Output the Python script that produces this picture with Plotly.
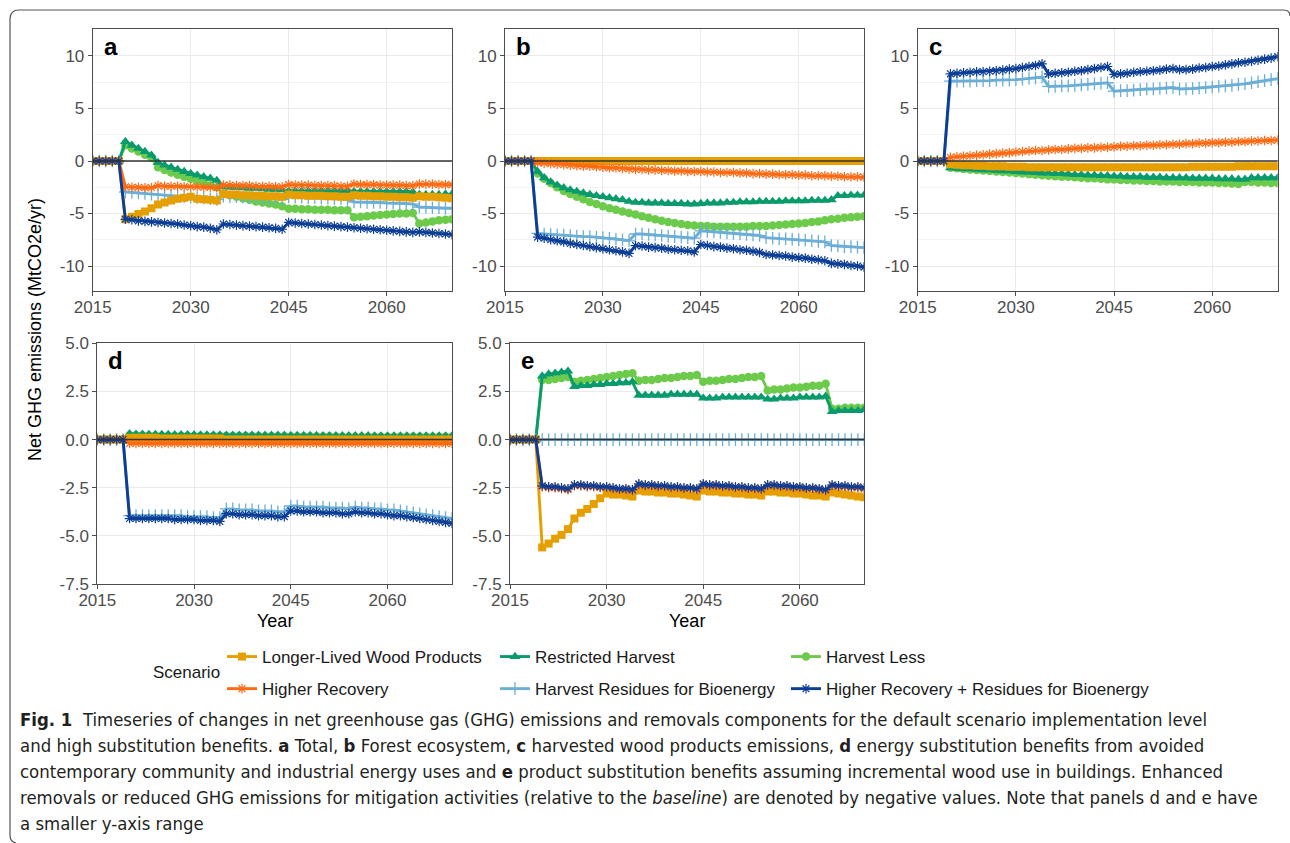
import plotly.graph_objects as go

# ---------------- data ----------------
years = list(range(2015, 2071))

scenarios = ["Longer-Lived Wood Products", "Restricted Harvest", "Harvest Less",
             "Higher Recovery", "Harvest Residues for Bioenergy",
             "Higher Recovery + Residues for Bioenergy"]

x_ticks = [2015, 2030, 2045, 2060]
x_tick_labels = ["2015", "2030", "2045", "2060"]
y_ticks_top = [-10, -5, 0, 5, 10]
y_tick_labels_top = ["-10", "-5", "0", "5", "10"]
y_ticks_bottom = [-7.5, -5, -2.5, 0, 2.5, 5]
y_tick_labels_bottom = ["-7.5", "-5.0", "-2.5", "0.0", "2.5", "5.0"]

# ---- panel a: Total ----
llwp_a = [0, 0, 0, 0, 0,
          -5.55, -5.3, -5.05, -4.8, -4.5, -4.15, -3.95, -3.75, -3.6, -3.5,
          -3.4, -3.6, -3.65, -3.7, -3.75, -3.15, -3.2, -3.2, -3.25, -3.25,
          -3.3, -3.3, -3.35, -3.35, -3.4, -3.2, -3.25, -3.25, -3.3, -3.3,
          -3.3, -3.35, -3.35, -3.4, -3.4, -3.25, -3.3, -3.3, -3.35, -3.35,
          -3.4, -3.4, -3.45, -3.45, -3.5, -3.35, -3.4, -3.4, -3.45, -3.5, -3.55]
rh_a = [0, 0, 0, 0, 0,
        1.85, 1.5, 1.2, 0.9, 0.55, -0.15, -0.4, -0.6, -0.8, -1.0,
        -1.2, -1.35, -1.5, -1.65, -1.85, -2.45, -2.5, -2.5, -2.55, -2.6,
        -2.6, -2.65, -2.7, -2.7, -2.75, -2.85, -2.85, -2.85, -2.85, -2.85,
        -2.85, -2.85, -2.85, -2.85, -2.85, -2.9, -2.9, -2.9, -2.9, -2.9,
        -2.9, -2.9, -2.9, -2.9, -2.95, -3.2, -3.2, -3.2, -3.2, -3.15, -3.15]
hl_a = [0, 0, 0, 0, 0,
        1.5, 1.2, 0.9, 0.6, 0.3, -0.6, -0.85, -1.1, -1.3, -1.5,
        -1.7, -1.9, -2.1, -2.3, -2.5, -3.1, -3.25, -3.4, -3.55, -3.7,
        -3.85, -3.95, -4.05, -4.15, -4.3, -4.55, -4.55, -4.6, -4.6, -4.65,
        -4.65, -4.65, -4.7, -4.7, -4.7, -5.35, -5.3, -5.25, -5.2, -5.15,
        -5.1, -5.05, -5.0, -5.0, -4.95, -5.95, -5.85, -5.75, -5.65, -5.6, -5.55]
hr_a = [0, 0, 0, 0, 0,
        -2.45, -2.5, -2.5, -2.55, -2.55, -2.35, -2.4, -2.4, -2.4, -2.45,
        -2.45, -2.45, -2.5, -2.5, -2.55, -2.3, -2.3, -2.35, -2.35, -2.35,
        -2.4, -2.4, -2.4, -2.45, -2.45, -2.25, -2.3, -2.3, -2.3, -2.35,
        -2.35, -2.35, -2.35, -2.4, -2.4, -2.2, -2.25, -2.25, -2.25, -2.3,
        -2.3, -2.3, -2.3, -2.35, -2.35, -2.2, -2.2, -2.2, -2.25, -2.25, -2.25]
hrb_a = [0, 0, 0, 0, 0,
         -2.95, -3.0, -3.05, -3.1, -3.15, -3.2, -3.25, -3.3, -3.35, -3.4,
         -3.45, -3.5, -3.55, -3.6, -3.65, -3.35, -3.4, -3.4, -3.45, -3.5,
         -3.5, -3.55, -3.6, -3.6, -3.65, -3.4, -3.45, -3.45, -3.5, -3.5,
         -3.55, -3.55, -3.6, -3.6, -3.65, -3.9, -3.9, -3.95, -3.95, -3.95,
         -4.0, -4.0, -4.05, -4.05, -4.1, -4.4, -4.4, -4.45, -4.45, -4.5, -4.5]
hrr_a = [0, 0, 0, 0, 0,
         -5.55, -5.6, -5.7, -5.75, -5.8, -5.85, -5.9, -5.95, -6.0, -6.1,
         -6.15, -6.25, -6.3, -6.4, -6.55, -6.0, -6.05, -6.1, -6.15, -6.2,
         -6.25, -6.3, -6.35, -6.4, -6.5, -5.85, -5.9, -5.95, -6.0, -6.05,
         -6.1, -6.15, -6.2, -6.25, -6.3, -6.35, -6.4, -6.45, -6.5, -6.55,
         -6.6, -6.65, -6.7, -6.75, -6.8, -6.75, -6.8, -6.85, -6.9, -6.95, -7.0]

# ---- panel b: Forest ecosystem ----
llwp_b = [0, 0, 0, 0, 0,
          0, 0, 0, 0, 0, 0, 0, 0, 0, 0,
          0, 0, 0, 0, 0, 0, 0, 0, 0, 0,
          0, 0, 0, 0, 0, 0, 0, 0, 0, 0,
          0, 0, 0, 0, 0, 0, 0, 0, 0, 0,
          0, 0, 0, 0, 0, 0, 0, 0, 0, 0, 0]
rh_b = [0, 0, 0, 0, 0,
        -1.0, -1.6, -2.0, -2.3, -2.55, -2.75, -2.9, -3.05, -3.2, -3.3,
        -3.4, -3.5, -3.6, -3.7, -3.85, -3.95, -3.95, -4.0, -4.0, -4.0,
        -4.05, -4.05, -4.05, -4.1, -4.1, -4.05, -4.0, -4.0, -4.0, -3.95,
        -3.95, -3.9, -3.9, -3.9, -3.85, -3.85, -3.85, -3.85, -3.8, -3.8,
        -3.8, -3.8, -3.75, -3.75, -3.75, -3.7, -3.3, -3.3, -3.25, -3.25, -3.25]
hl_b = [0, 0, 0, 0, 0,
        -1.2, -1.7, -2.1, -2.5, -2.85, -3.15, -3.4, -3.65, -3.9, -4.1,
        -4.3, -4.5, -4.65, -4.8, -4.95, -5.1, -5.25, -5.4, -5.55, -5.7,
        -5.8, -5.9, -6.0, -6.1, -6.15, -6.2, -6.2, -6.25, -6.25, -6.25,
        -6.25, -6.25, -6.25, -6.2, -6.2, -6.2, -6.15, -6.1, -6.05, -6.0,
        -5.95, -5.9, -5.8, -5.75, -5.65, -5.55, -5.5, -5.4, -5.35, -5.3, -5.25]
hr_b = [0, 0, 0, 0, 0,
        -0.15, -0.2, -0.25, -0.3, -0.35, -0.4, -0.45, -0.5, -0.5, -0.55,
        -0.6, -0.65, -0.65, -0.7, -0.75, -0.8, -0.8, -0.85, -0.85, -0.9,
        -0.9, -0.95, -0.95, -1.0, -1.0, -1.0, -1.05, -1.05, -1.1, -1.1,
        -1.1, -1.15, -1.15, -1.2, -1.2, -1.25, -1.25, -1.3, -1.3, -1.3,
        -1.35, -1.35, -1.4, -1.4, -1.4, -1.45, -1.45, -1.5, -1.5, -1.5, -1.55]
hrb_b = [0, 0, 0, 0, 0,
         -6.9, -6.95, -7.0, -7.05, -7.05, -7.1, -7.15, -7.2, -7.2, -7.25,
         -7.3, -7.35, -7.45, -7.5, -7.6, -6.95, -6.95, -7.0, -7.05, -7.1,
         -7.15, -7.2, -7.25, -7.3, -7.35, -6.65, -6.7, -6.75, -6.8, -6.85,
         -6.9, -6.95, -7.0, -7.05, -7.1, -7.3, -7.35, -7.4, -7.4, -7.45,
         -7.5, -7.55, -7.6, -7.65, -7.7, -8.05, -8.1, -8.15, -8.15, -8.2, -8.25]
hrr_b = [0, 0, 0, 0, 0,
         -7.25, -7.35, -7.5, -7.6, -7.7, -7.85, -7.95, -8.05, -8.15, -8.25,
         -8.35, -8.45, -8.55, -8.65, -8.8, -8.05, -8.1, -8.2, -8.25, -8.3,
         -8.4, -8.45, -8.5, -8.55, -8.65, -7.95, -8.05, -8.15, -8.2, -8.3,
         -8.35, -8.45, -8.5, -8.6, -8.7, -8.9, -8.95, -9.0, -9.05, -9.15,
         -9.2, -9.25, -9.35, -9.4, -9.5, -9.75, -9.8, -9.85, -9.95, -10.0, -10.1]

# ---- panel c: harvested wood products emissions ----
llwp_c = [0, 0, 0, 0, 0,
          -0.3, -0.35, -0.4, -0.4, -0.45, -0.45, -0.5, -0.5, -0.5, -0.55,
          -0.55, -0.55, -0.6, -0.6, -0.6, -0.6, -0.6, -0.6, -0.6, -0.6,
          -0.6, -0.6, -0.6, -0.6, -0.6, -0.6, -0.6, -0.6, -0.6, -0.6,
          -0.6, -0.6, -0.6, -0.6, -0.6, -0.6, -0.6, -0.55, -0.55, -0.55,
          -0.55, -0.55, -0.55, -0.55, -0.5, -0.5, -0.5, -0.5, -0.5, -0.5, -0.5]
rh_c = [0, 0, 0, 0, 0,
        -0.65, -0.7, -0.75, -0.75, -0.8, -0.85, -0.85, -0.9, -0.95, -0.95,
        -1.0, -1.05, -1.05, -1.1, -1.15, -1.15, -1.2, -1.2, -1.25, -1.3,
        -1.3, -1.35, -1.35, -1.4, -1.4, -1.45, -1.45, -1.5, -1.5, -1.5,
        -1.55, -1.55, -1.55, -1.6, -1.6, -1.6, -1.6, -1.65, -1.65, -1.65,
        -1.65, -1.7, -1.7, -1.7, -1.75, -1.75, -1.6, -1.6, -1.6, -1.6, -1.6]
hl_c = [0, 0, 0, 0, 0,
        -0.65, -0.7, -0.75, -0.8, -0.85, -0.9, -0.95, -1.0, -1.05, -1.1,
        -1.15, -1.2, -1.25, -1.3, -1.35, -1.4, -1.45, -1.5, -1.5, -1.55,
        -1.6, -1.65, -1.65, -1.7, -1.75, -1.75, -1.8, -1.8, -1.85, -1.85,
        -1.9, -1.9, -1.95, -1.95, -1.95, -2.0, -2.0, -2.0, -2.05, -2.05,
        -2.05, -2.1, -2.1, -2.15, -2.2, -2.0, -2.0, -2.05, -2.05, -2.1, -2.1]
hr_c = [0, 0, 0, 0, 0,
        0.35, 0.4, 0.45, 0.5, 0.55, 0.6, 0.65, 0.7, 0.75, 0.8,
        0.85, 0.9, 0.95, 1.0, 1.0, 1.05, 1.1, 1.1, 1.15, 1.2,
        1.2, 1.25, 1.25, 1.3, 1.3, 1.35, 1.4, 1.4, 1.45, 1.45,
        1.5, 1.5, 1.55, 1.55, 1.6, 1.6, 1.65, 1.65, 1.7, 1.7,
        1.75, 1.75, 1.8, 1.8, 1.85, 1.85, 1.9, 1.9, 1.95, 1.95, 2.0]
hrb_c = [0, 0, 0, 0, 0,
         7.6, 7.6, 7.6, 7.6, 7.65, 7.65, 7.65, 7.7, 7.7, 7.7,
         7.75, 7.8, 7.85, 7.9, 8.0, 7.1, 7.1, 7.15, 7.15, 7.2,
         7.25, 7.3, 7.35, 7.4, 7.45, 6.65, 6.7, 6.7, 6.75, 6.8,
         6.85, 6.85, 6.9, 6.95, 7.0, 6.85, 6.85, 6.9, 6.95, 7.0,
         7.05, 7.1, 7.15, 7.2, 7.3, 7.35, 7.45, 7.55, 7.65, 7.75, 7.85]
hrr_c = [0, 0, 0, 0, 0,
         8.3, 8.35, 8.4, 8.45, 8.5, 8.5, 8.55, 8.6, 8.65, 8.75,
         8.8, 8.9, 9.0, 9.1, 9.25, 8.3, 8.35, 8.4, 8.45, 8.55,
         8.6, 8.7, 8.8, 8.9, 9.0, 8.25, 8.3, 8.35, 8.45, 8.5,
         8.55, 8.6, 8.65, 8.75, 8.8, 8.7, 8.7, 8.75, 8.85, 8.9,
         9.0, 9.05, 9.15, 9.25, 9.35, 9.4, 9.5, 9.6, 9.7, 9.8, 9.95]

# ---- panel d: energy substitution ----
llwp_d = [0, 0, 0, 0, 0,
          0.1, 0.1, 0.1, 0.1, 0.1, 0.05, 0.05, 0.05, 0.05, 0.05,
          0.05, 0.05, 0.05, 0.05, 0.05, 0, 0, 0, 0, 0,
          0, 0, 0, 0, 0, 0, 0, 0, 0, 0,
          0, 0, 0, 0, 0, 0, 0, 0, 0, 0,
          0, 0, 0, 0, 0, 0, 0, 0, 0, 0, 0]
rh_d = [0, 0, 0, 0, 0,
        0.3, 0.28, 0.28, 0.27, 0.27, 0.26, 0.26, 0.25, 0.25, 0.25,
        0.25, 0.24, 0.24, 0.24, 0.24, 0.23, 0.23, 0.23, 0.23, 0.23,
        0.22, 0.22, 0.22, 0.22, 0.22, 0.21, 0.21, 0.21, 0.21, 0.21,
        0.2, 0.2, 0.2, 0.2, 0.2, 0.2, 0.2, 0.2, 0.19, 0.19,
        0.19, 0.19, 0.19, 0.19, 0.19, 0.18, 0.18, 0.18, 0.18, 0.18, 0.18]
hl_d = [0, 0, 0, 0, 0,
        0.22, 0.22, 0.21, 0.21, 0.21, 0.2, 0.2, 0.2, 0.2, 0.2,
        0.19, 0.19, 0.19, 0.19, 0.19, 0.18, 0.18, 0.18, 0.18, 0.18,
        0.17, 0.17, 0.17, 0.17, 0.17, 0.16, 0.16, 0.16, 0.16, 0.16,
        0.16, 0.16, 0.16, 0.15, 0.15, 0.15, 0.15, 0.15, 0.15, 0.15,
        0.15, 0.15, 0.15, 0.15, 0.15, 0.15, 0.15, 0.15, 0.15, 0.15, 0.15]
hr_d = [0, 0, 0, 0, 0,
        -0.2, -0.2, -0.2, -0.2, -0.2, -0.2, -0.2, -0.2, -0.2, -0.2,
        -0.2, -0.2, -0.2, -0.2, -0.2, -0.2, -0.2, -0.2, -0.2, -0.2,
        -0.2, -0.2, -0.2, -0.2, -0.2, -0.2, -0.2, -0.2, -0.2, -0.2,
        -0.2, -0.2, -0.2, -0.2, -0.2, -0.2, -0.2, -0.2, -0.2, -0.2,
        -0.2, -0.2, -0.2, -0.2, -0.2, -0.2, -0.2, -0.2, -0.2, -0.2, -0.2]
hrb_d = [0, 0, 0, 0, 0,
         -3.95, -3.95, -3.95, -3.95, -3.95, -3.95, -3.95, -3.95, -3.95, -4.0,
         -4.0, -4.0, -4.0, -4.05, -4.05, -3.6, -3.6, -3.65, -3.65, -3.65,
         -3.7, -3.7, -3.7, -3.75, -3.75, -3.45, -3.45, -3.5, -3.5, -3.5,
         -3.5, -3.55, -3.55, -3.55, -3.6, -3.5, -3.55, -3.55, -3.6, -3.6,
         -3.65, -3.65, -3.7, -3.75, -3.8, -3.85, -3.9, -3.95, -4.0, -4.05, -4.1]
hrr_d = [0, 0, 0, 0, 0,
         -4.1, -4.1, -4.1, -4.1, -4.1, -4.1, -4.1, -4.15, -4.15, -4.15,
         -4.15, -4.2, -4.2, -4.2, -4.25, -3.85, -3.85, -3.9, -3.9, -3.9,
         -3.95, -3.95, -3.95, -4.0, -4.0, -3.7, -3.7, -3.75, -3.75, -3.75,
         -3.8, -3.8, -3.8, -3.85, -3.85, -3.75, -3.8, -3.8, -3.85, -3.85,
         -3.9, -3.95, -3.95, -4.0, -4.05, -4.1, -4.15, -4.2, -4.25, -4.3, -4.35]

# ---- panel e: product substitution ----
llwp_e = [0, 0, 0, 0, 0,
          -5.6, -5.4, -5.15, -4.95, -4.65, -4.1, -3.8, -3.6, -3.35, -3.05,
          -2.8, -2.85, -2.85, -2.9, -2.95, -2.65, -2.7, -2.7, -2.75, -2.75,
          -2.8, -2.8, -2.85, -2.9, -2.95, -2.65, -2.7, -2.7, -2.75, -2.75,
          -2.8, -2.8, -2.85, -2.85, -2.9, -2.7, -2.7, -2.75, -2.75, -2.8,
          -2.8, -2.85, -2.9, -2.9, -2.95, -2.75, -2.8, -2.85, -2.9, -2.95, -3.0]
rh_e = [0, 0, 0, 0, 0,
        3.3, 3.4, 3.45, 3.5, 3.55, 2.75, 2.8, 2.8, 2.85, 2.85,
        2.9, 2.9, 2.95, 2.95, 3.0, 2.3, 2.3, 2.3, 2.3, 2.3,
        2.35, 2.35, 2.35, 2.35, 2.35, 2.15, 2.15, 2.15, 2.2, 2.2,
        2.2, 2.2, 2.2, 2.2, 2.2, 2.1, 2.1, 2.15, 2.15, 2.15,
        2.2, 2.2, 2.2, 2.2, 2.25, 1.45, 1.5, 1.5, 1.5, 1.5, 1.55]
hl_e = [0, 0, 0, 0, 0,
        3.1, 3.1, 3.15, 3.2, 3.25, 3.0, 3.05, 3.1, 3.15, 3.2,
        3.25, 3.3, 3.35, 3.4, 3.45, 3.05, 3.1, 3.1, 3.15, 3.2,
        3.2, 3.25, 3.3, 3.3, 3.35, 3.0, 3.05, 3.05, 3.1, 3.15,
        3.15, 3.2, 3.25, 3.25, 3.3, 2.55, 2.6, 2.6, 2.65, 2.7,
        2.7, 2.75, 2.8, 2.8, 2.9, 1.6, 1.6, 1.65, 1.65, 1.65, 1.65]
hr_e = [0, 0, 0, 0, 0,
        -2.45, -2.5, -2.5, -2.55, -2.6, -2.4, -2.4, -2.45, -2.45, -2.5,
        -2.5, -2.55, -2.6, -2.6, -2.65, -2.35, -2.4, -2.4, -2.45, -2.45,
        -2.5, -2.5, -2.55, -2.55, -2.6, -2.35, -2.4, -2.4, -2.45, -2.45,
        -2.5, -2.5, -2.55, -2.55, -2.6, -2.4, -2.4, -2.45, -2.45, -2.5,
        -2.5, -2.55, -2.55, -2.6, -2.65, -2.4, -2.45, -2.45, -2.5, -2.5, -2.55]
hrb_e = [0, 0, 0, 0, 0,
         0, 0, 0, 0, 0, 0, 0, 0, 0, 0,
         0, 0, 0, 0, 0, 0, 0, 0, 0, 0,
         0, 0, 0, 0, 0, 0, 0, 0, 0, 0,
         0, 0, 0, 0, 0, 0, 0, 0, 0, 0,
         0, 0, 0, 0, 0, 0, 0, 0, 0, 0, 0]
hrr_e = [0, 0, 0, 0, 0,
         -2.4, -2.45, -2.45, -2.5, -2.55, -2.35, -2.35, -2.4, -2.4, -2.45,
         -2.45, -2.5, -2.55, -2.55, -2.6, -2.3, -2.35, -2.35, -2.4, -2.4,
         -2.45, -2.45, -2.5, -2.5, -2.55, -2.3, -2.35, -2.35, -2.4, -2.4,
         -2.45, -2.45, -2.5, -2.5, -2.55, -2.35, -2.35, -2.4, -2.4, -2.45,
         -2.45, -2.5, -2.5, -2.55, -2.6, -2.35, -2.4, -2.4, -2.45, -2.45, -2.5]

# ---------------- styling ----------------
W, H = 1290, 843
FONT = "Liberation Sans, Arial, sans-serif"
CAPFONT = "DejaVu Sans Condensed, Liberation Sans, sans-serif"

def fx(p):
    return p / W

def fy(p):
    return 1 - p / H

style = {
    "Longer-Lived Wood Products": dict(color="#E69F00", symbol="square", size=8, lw=0, col=1, rank=1),
    "Restricted Harvest": dict(color="#0A9B6C", symbol="triangle-up", size=9.5, lw=0, col=2, rank=1),
    "Harvest Less": dict(color="#6CCB4B", symbol="circle", size=8.5, lw=0, col=3, rank=1),
    "Higher Recovery": dict(color="#FF6A13", symbol="asterisk-open", size=8, lw=1.2, col=1, rank=2),
    "Harvest Residues for Bioenergy": dict(color="#6BAED6", symbol="cross-thin-open", size=9, lw=1.3, col=2, rank=2),
    "Higher Recovery + Residues for Bioenergy": dict(color="#0C3E96", symbol="asterisk-open", size=8, lw=1.2, col=3, rank=2),
}

panel_data = {
    "a": {"Longer-Lived Wood Products": llwp_a, "Restricted Harvest": rh_a, "Harvest Less": hl_a,
          "Higher Recovery": hr_a, "Harvest Residues for Bioenergy": hrb_a,
          "Higher Recovery + Residues for Bioenergy": hrr_a},
    "b": {"Longer-Lived Wood Products": llwp_b, "Restricted Harvest": rh_b, "Harvest Less": hl_b,
          "Higher Recovery": hr_b, "Harvest Residues for Bioenergy": hrb_b,
          "Higher Recovery + Residues for Bioenergy": hrr_b},
    "c": {"Longer-Lived Wood Products": llwp_c, "Restricted Harvest": rh_c, "Harvest Less": hl_c,
          "Higher Recovery": hr_c, "Harvest Residues for Bioenergy": hrb_c,
          "Higher Recovery + Residues for Bioenergy": hrr_c},
    "d": {"Longer-Lived Wood Products": llwp_d, "Restricted Harvest": rh_d, "Harvest Less": hl_d,
          "Higher Recovery": hr_d, "Harvest Residues for Bioenergy": hrb_d,
          "Higher Recovery + Residues for Bioenergy": hrr_d},
    "e": {"Longer-Lived Wood Products": llwp_e, "Restricted Harvest": rh_e, "Harvest Less": hl_e,
          "Higher Recovery": hr_e, "Harvest Residues for Bioenergy": hrb_e,
          "Higher Recovery + Residues for Bioenergy": hrr_e},
}

# panel geometry in pixels (left, right, top, bottom)
panels = {
    "a": dict(ax="", box=(92.7, 452.0, 29.0, 291.0), row="top"),
    "b": dict(ax="2", box=(505.0, 864.0, 29.0, 291.0), row="top"),
    "c": dict(ax="3", box=(917.7, 1277.7, 29.0, 291.0), row="top"),
    "d": dict(ax="4", box=(97.3, 452.0, 343.3, 584.0), row="bottom"),
    "e": dict(ax="5", box=(510.0, 864.3, 343.3, 584.0), row="bottom"),
}

draw_order = ["Harvest Less", "Restricted Harvest", "Harvest Residues for Bioenergy",
              "Longer-Lived Wood Products", "Higher Recovery",
              "Higher Recovery + Residues for Bioenergy"]

fig = go.Figure()

for p, cfg in panels.items():
    for s in draw_order:
        st = style[s]
        leg = "legend" if st["col"] == 1 else "legend%d" % st["col"]
        fig.add_trace(go.Scatter(
            x=years, y=panel_data[p][s], name=s,
            mode="lines+markers",
            xaxis="x" + cfg["ax"], yaxis="y" + cfg["ax"],
            line=dict(color=st["color"], width=2.9),
            marker=dict(symbol=st["symbol"], size=st["size"], color=st["color"],
                        line=dict(color=st["color"], width=st["lw"])),
            legendgroup=s, showlegend=(p == "a"), legend=leg,
            legendrank=st["rank"],
        ))

layout = dict(
    width=W, height=H, autosize=False,
    margin=dict(l=0, r=0, t=0, b=0, pad=0, autoexpand=False),
    paper_bgcolor="white", plot_bgcolor="white",
    font=dict(family=FONT, size=17, color="#4D4D4D"),
    showlegend=True,
)

for p, cfg in panels.items():
    l, r, t, b = cfg["box"]
    top = cfg["row"] == "top"
    xa = dict(
        domain=[fx(l), fx(r)], range=[2015, 2070], anchor="y" + cfg["ax"],
        tickmode="array", tickvals=x_ticks, ticktext=x_tick_labels,
        showgrid=True, gridcolor="#EBEBEB", gridwidth=1,
        showline=True, mirror=True, linecolor="#4D4D4D", linewidth=1,
        ticks="outside", ticklen=4, tickcolor="#4D4D4D", ticklabelstandoff=-3,
        tickfont=dict(size=17, color="#4D4D4D"), zeroline=False, automargin=False,
    )
    ya = dict(
        domain=[fy(b), fy(t)], anchor="x" + cfg["ax"],
        range=[-12.38, 12.57] if top else [-7.5, 5.0],
        tickmode="array",
        tickvals=y_ticks_top if top else y_ticks_bottom,
        ticktext=y_tick_labels_top if top else y_tick_labels_bottom,
        showgrid=True, gridcolor="#EBEBEB", gridwidth=1,
        showline=True, mirror=True, linecolor="#4D4D4D", linewidth=1,
        ticks="outside", ticklen=4, tickcolor="#4D4D4D",
        tickfont=dict(size=17, color="#4D4D4D"), zeroline=False, automargin=False,
    )
    if top:
        ya["minor"] = dict(tickmode="array", tickvals=[-7.5, -2.5, 2.5, 7.5],
                           showgrid=True, gridcolor="#F3F3F3", gridwidth=1, ticks="")
    layout["xaxis" + cfg["ax"]] = xa
    layout["yaxis" + cfg["ax"]] = ya

legend_common = dict(
    orientation="v", xanchor="left", yanchor="top",
    font=dict(family=FONT, size=17, color="#1A1A1A"),
    bgcolor="rgba(0,0,0,0)", tracegroupgap=7, itemwidth=30,
)
layout["legend"] = dict(legend_common, x=fx(222), y=fy(639))
layout["legend2"] = dict(legend_common, x=fx(495), y=fy(639))
layout["legend3"] = dict(legend_common, x=fx(786), y=fy(639))

fig.update_layout(**layout)

# zero reference lines on top of the data
for p, cfg in panels.items():
    fig.add_shape(type="line", xref="x" + cfg["ax"] + " domain", yref="y" + cfg["ax"],
                  x0=0, x1=1, y0=0, y1=0, layer="above",
                  line=dict(color="#333333", width=1.5))

# panel letters
for p, cfg in panels.items():
    l, r, t, b = cfg["box"]
    fig.add_annotation(text="<b>%s</b>" % p, xref="paper", yref="paper",
                       x=fx(l + 9), y=fy(t + 2), xanchor="left", yanchor="top",
                       showarrow=False, font=dict(family=FONT, size=24, color="black"))

# axis titles
fig.add_annotation(text="Net GHG emissions (MtCO2e/yr)", xref="paper", yref="paper",
                   x=fx(35), y=fy(330), xanchor="center", yanchor="middle",
                   textangle=-90, showarrow=False,
                   font=dict(family=FONT, size=18, color="black"))
for p in ["d", "e"]:
    l, r, t, b = panels[p]["box"]
    fig.add_annotation(text="Year", xref="paper", yref="paper",
                       x=fx((l + r) / 2), y=fy(621), xanchor="center", yanchor="middle",
                       showarrow=False, font=dict(family=FONT, size=18, color="black"))

# legend title
fig.add_annotation(text="Scenario", xref="paper", yref="paper", x=fx(222), y=fy(672),
                   xanchor="right", yanchor="middle", showarrow=False,
                   font=dict(family=FONT, size=17, color="#1A1A1A"))

# caption
caption_lines = [
    "<b>Fig. 1</b>  Timeseries of changes in net greenhouse gas (GHG) emissions and removals components for the default scenario implementation level",
    "and high substitution benefits. <b>a</b> Total, <b>b</b> Forest ecosystem, <b>c</b> harvested wood products emissions, <b>d</b> energy substitution benefits from avoided",
    "contemporary community and industrial energy uses and <b>e</b> product substitution benefits assuming incremental wood use in buildings. Enhanced",
    "removals or reduced GHG emissions for mitigation activities (relative to the <i>baseline</i>) are denoted by negative values. Note that panels d and e have",
    "a smaller y-axis range",
]
caption_y = [719, 745, 771, 797, 823]
for line, yy in zip(caption_lines, caption_y):
    fig.add_annotation(text=line, xref="paper", yref="paper", x=fx(18), y=fy(yy),
                       xanchor="left", yanchor="middle", showarrow=False,
                       font=dict(family=CAPFONT, size=18.4, color="#231F20"))

# frame
def P(x, y):
    return "%.5f,%.5f" % (fx(x), fy(y))

frame = ("M " + P(1290, 16) + " Q " + P(1290, 10) + " " + P(1283, 10) +
         " L " + P(19, 10) + " Q " + P(10, 10) + " " + P(10, 19) +
         " L " + P(10, 835) + " Q " + P(10, 842) + " " + P(16, 843))
fig.add_shape(type="path", path=frame, xref="paper", yref="paper",
              line=dict(color="#555555", width=1.2))

fig.write_html("out.html",
               post_script="document.body.style.margin='0px';document.body.style.overflow='hidden';")
